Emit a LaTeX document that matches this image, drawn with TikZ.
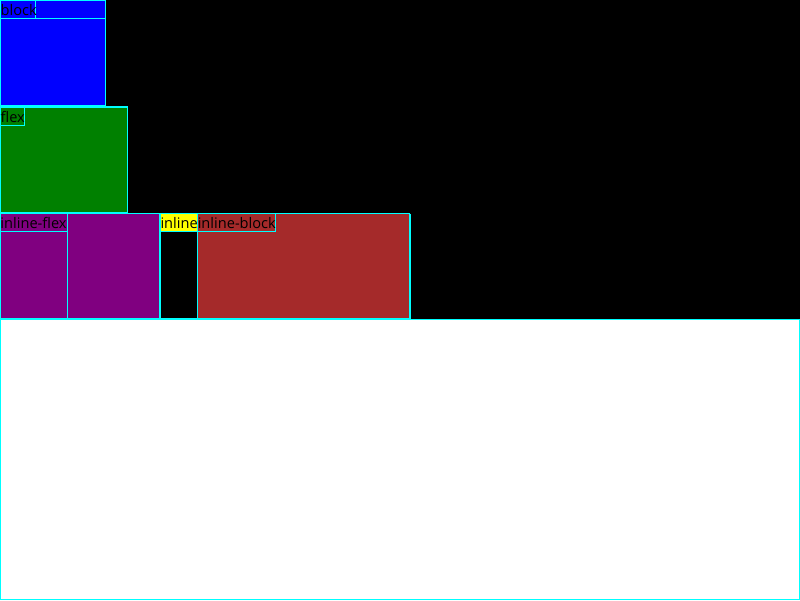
\documentclass[tikz,border=0pt]{standalone}
\usepackage{fontspec}
\setmainfont{Open Sans}
\definecolor{cy}{RGB}{0,255,255}
\definecolor{brn}{RGB}{165,42,42}
\definecolor{pur}{RGB}{128,0,128}
\definecolor{grn}{RGB}{0,128,0}
\definecolor{blu}{RGB}{0,0,255}
\definecolor{yel}{RGB}{255,255,0}
\tikzset{
  box/.style={draw=cy, line width=1pt},
  lbl/.style={anchor=base west, inner sep=0pt, font=\fontsize{14.6}{15}\selectfont, text=black},
  lblbox/.style={draw=cy, line width=1pt}
}
\begin{document}
\begin{tikzpicture}[x=1pt,y=-1pt]
\useasboundingbox (0,0) rectangle (800,600);
% page
\fill[white] (0,0) rectangle (800,600);
\draw[cy, line width=1.2pt] (0.6,0.6) rectangle (799.4,599.4);
% body
\fill[black] (0,0) rectangle (800,319);
\draw[cy, line width=1pt] (0,319) -- (800,319);
% block
\fill[blu] (0,0) rectangle (106,106);
\draw[box, line width=1.4pt] (0.7,0.7) rectangle (105.5,105.5);
\draw[lblbox] (0.5,0.5) rectangle (35.5,18);
\draw[cy, line width=1pt] (0.5,18) -- (105.5,18);
\node[lbl] (tblock) at (0.5,15.5) {block};
% flex
\fill[grn] (0,107) rectangle (128,213);
\draw[box, line width=1.2pt] (0.6,107) rectangle (127.6,212.6);
\draw[lblbox] (0.5,107) rectangle (24.5,125.5);
\node[lbl] (tflex) at (0.5,122.5) {flex};
% inline row outline
\draw[box, line width=1.2pt] (0.6,213.5) rectangle (409.8,318.6);
% inline-flex
\fill[pur] (0,213.5) rectangle (159.5,318.5);
\draw[box] (0.6,213.5) rectangle (159.5,318.5);
\draw[lblbox] (0.5,213.5) rectangle (67.3,231);
\draw[cy, line width=0.8pt] (67.3,213.5) -- (67.3,318.5);
\node[lbl] (tif) at (0.3,228.5) {inline-flex};
% inline
\draw[box] (160,213.5) rectangle (197.3,318.5);
\fill[yel] (160.4,214) rectangle (196.8,231);
\draw[lblbox] (160,213.5) rectangle (197.3,231.5);
\node[lbl] (tinl) at (160.3,228.5) {inline};
% inline-block
\fill[brn] (197.3,213.5) rectangle (409.8,318.5);
\draw[box] (197.3,213.5) rectangle (409.8,318.5);
\draw[lblbox] (197.3,213.5) rectangle (275.5,231);
\node[lbl] (tib) at (197.6,228.5) {inline-block};
\draw[box, line width=1.4pt] (409.8,213.5) -- (409.8,318.6);
\end{tikzpicture}
\end{document}
